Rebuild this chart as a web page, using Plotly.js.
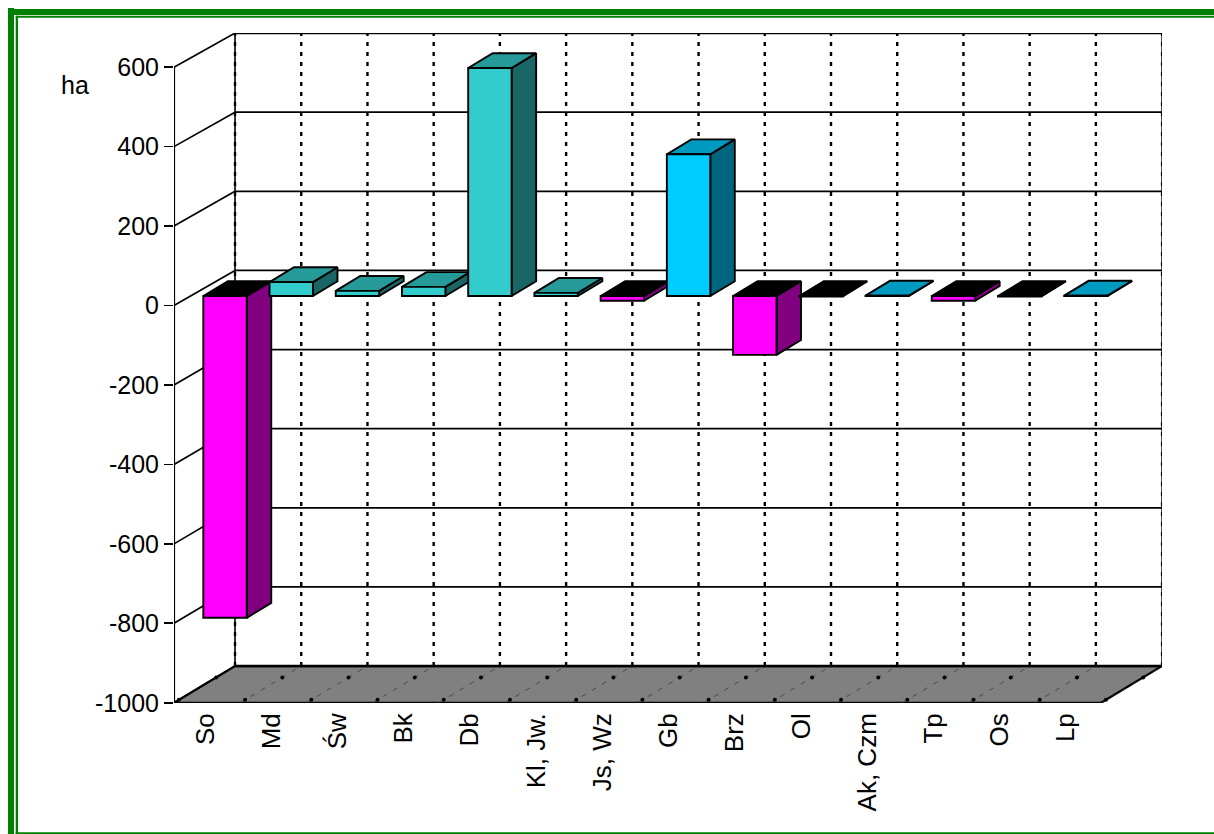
<!DOCTYPE html>
<html>
<head>
<meta charset="utf-8">
<script src="https://cdn.plot.ly/plotly-3.0.1.min.js"></script>
<style>html,body{margin:0;padding:0;background:#fff;overflow:hidden}#chart{width:1214px;height:834px}</style>
</head>
<body>
<div id="chart"></div>
<script>
// Area change per stand type, in hectares
const categories = ['So','Md','Św','Bk','Db','Kl, Jw.','Js, Wz','Gb','Brz','Ol','Ak, Czm','Tp','Os','Lp'];
const areaChange = [-810, 35, 13, 23, 574, 8, -12, 357, -148, -1, 1, -12, -1, 1];
const blueCategories = ['Gb','Ak, Czm','Lp'];
const yTicks = [-1000,-800,-600,-400,-200,0,200,400,600];

// Colour families: front, top and side faces of a block
const tealFaces = {front:'#33CCCC', top:'#269999', side:'#1A6666'};
const blueFaces = {front:'#00CCFF', top:'#0099BF', side:'#006680'};
const lossFaces = {front:'#FF00FF', top:'#000000', side:'#800080'};

// Oblique projection, in axis units
const W = 1214, H = 834;
const wallDX = 0.9215, wallLift = 88.35, wallScale = 0.9958;
const barDX = 0.37, barLift = 37.3;
const barOffset = -0.0574, barWidth = 0.656, baseLift = 23.9;
const xLeft = -0.5, nCat = categories.length;
const edge = 1.9;

const facesOf = (i) => areaChange[i] < 0 ? lossFaces
  : (blueCategories.includes(categories[i]) ? blueFaces : tealFaces);
const backY = (v) => wallLift + wallScale * v;

const lineTrace = (x, y, width, extra) => Object.assign({
  type:'scatter', mode:'lines', x, y, hoverinfo:'skip', showlegend:false, zorder:-1, cliponaxis:false,
  line:{color:'#000', width}
}, extra || {});

const traces = [];

// Floor
const floorBottom = -1000;
const fx = [xLeft, xLeft+nCat, xLeft+nCat+wallDX, xLeft+wallDX, xLeft];
const fy = [floorBottom, floorBottom, backY(floorBottom), backY(floorBottom), floorBottom];
traces.push(lineTrace(fx, fy, 2.2, {fill:'toself', fillcolor:'#808080'}));

// Floor rulings, thin dashes with a dot near each end
for (let k = 0; k <= nCat; k++) {
  const x0 = xLeft + k, x1 = x0 + wallDX, y0 = floorBottom, y1 = backY(floorBottom);
  if (k > 0) traces.push(lineTrace([x0,x1], [y0,y1], 1, {line:{color:'#333', width:0.7, dash:'5px,7px'}}));
  const fr = [0.08, 0.69];
  traces.push({type:'scatter', mode:'markers', zorder:-1, hoverinfo:'skip', showlegend:false, cliponaxis:false,
    x: fr.map(f => x0 + f*wallDX), y: fr.map(f => y0 + f*(y1-y0)),
    marker:{color:'#000', size:4}});
}

// Left wall diagonals and back wall horizontals
yTicks.forEach((v) => {
  traces.push(lineTrace([xLeft, xLeft+wallDX], [v, backY(v)], 1.7));
  if (v > floorBottom) traces.push(lineTrace([xLeft+wallDX, xLeft+wallDX+nCat], [backY(v), backY(v)], v === 600 ? 2.2 : 1.8));
});

// Back wall verticals
for (let k = 0; k <= nCat; k++) {
  const x = xLeft + wallDX + k;
  if (k === 0 || k === nCat) traces.push(lineTrace([x,x], [backY(floorBottom), backY(600)], 1.6));
  traces.push(lineTrace([x,x], [backY(floorBottom), backY(600)], 2, {line:{color:'#000', width:2.4, dash:'4px,6px'}}));
}
// Back edge of the floor, drawn last over the dashes
traces.push(lineTrace([xLeft+wallDX, xLeft+wallDX+nCat], [backY(floorBottom), backY(floorBottom)], 2.6));

// Value axis spine
traces.push(lineTrace([xLeft,xLeft], [floorBottom,600], 2.2));

// Side and top faces of each block, left to right
categories.forEach((c, i) => {
  const v = areaChange[i], f = facesOf(i);
  const left = i + barOffset, right = left + barWidth;
  const hi = baseLift + Math.max(v,0), lo = baseLift + Math.min(v,0);
  traces.push(lineTrace(
    [right, right+barDX, right+barDX, right, right],
    [lo, lo+barLift, hi+barLift, hi, lo], edge,
    {fill:'toself', fillcolor:f.side, zorder:0}));
  traces.push(lineTrace(
    [left, right, right+barDX, left+barDX, left],
    [hi, hi, hi+barLift, hi+barLift, hi], edge,
    {fill:'toself', fillcolor:f.top, zorder:0}));
});

// Front faces
traces.push({
  type:'bar', zorder:1, showlegend:false, hoverinfo:'skip', cliponaxis:false,
  x: categories.map((c,i) => i + barOffset + barWidth/2),
  y: areaChange,
  base: categories.map(() => baseLift),
  width: barWidth,
  marker:{color: categories.map((c,i) => facesOf(i).front), line:{color:'#000', width:edge}}
});

// Double green frame, running off the right edge of the page
const px = (p) => p / W, py = (p) => 1 - p / H;
const frameBar = (x0,y0,x1,y1) => ({type:'rect', xref:'paper', yref:'paper', layer:'below',
  x0:px(x0), x1:px(x1), y0:py(y0), y1:py(y1), fillcolor:'#008000', line:{width:0}});
const shapes = [
  frameBar(8,8,14,834), frameBar(8,9,W,15),
  frameBar(15.7,15.7,18,834), frameBar(15.7,15.8,W,17.7),
  frameBar(15.7,832.3,W,834)
];

const family = '"Liberation Sans", Arial, sans-serif';
const xFont = {family, size:26, color:'#000'};
const yFont = {family, size:25, color:'#000'};
const layout = {
  width:W, height:H, margin:{l:0,r:0,t:0,b:0}, paper_bgcolor:'#fff', plot_bgcolor:'rgba(0,0,0,0)',
  font:yFont, showlegend:false, shapes, barmode:'overlay',
  xaxis:{domain:[174/W,1162/W], range:[xLeft,14.42], tickvals:categories.map((c,i)=>i-0.03), ticktext:categories,
    tickangle:-90, ticks:'', showgrid:false, zeroline:false, showline:false, tickfont:xFont, ticklabelstandoff:4, fixedrange:true},
  yaxis:{domain:[1-703/H,1-33/H], range:[-1000.5,686], tickvals:yTicks, ticktext:yTicks.map(String),
    ticks:'outside', ticklen:9, tickwidth:1.7, tickcolor:'#000', showgrid:false, zeroline:false, showline:false, tickfont:yFont, fixedrange:true},
  annotations:[{text:'ha', xref:'paper', yref:'paper', x:px(75), y:py(85), showarrow:false, font:yFont, xanchor:'center', yanchor:'middle'}]
};

Plotly.newPlot('chart', traces, layout, {displayModeBar:false, staticPlot:true});
</script>
</body>
</html>
